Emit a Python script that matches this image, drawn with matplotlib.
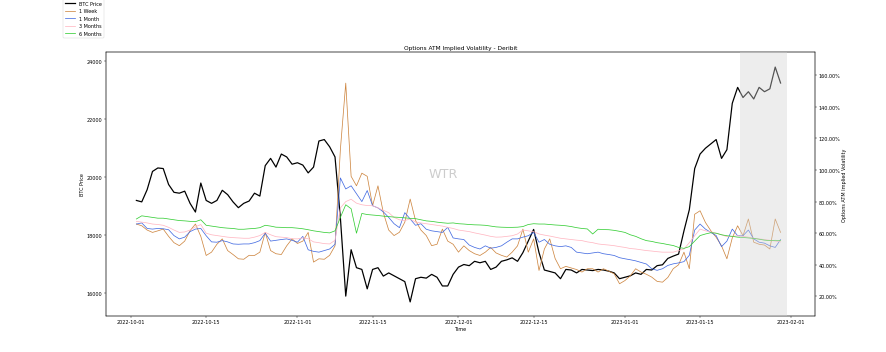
"""
Options ATM implied volatility (Deribit) against BTC price, Oct 2022 - Jan 2023.
"""

import pandas as pd
import matplotlib.pyplot as plt
import matplotlib.dates as mdates
import matplotlib.ticker as mtick

# big canvas drawn at low dpi so the text/lines scale like the original export
DPI = 35.44
plt.rcParams.update({
    'font.family': 'DejaVu Sans',
    'font.size': 10,
})

# --- data: one value per day, 2022-10-02 .. 2023-01-30 ---
START_DATE = '2022-10-02'

BTC_PRICE = [
    19200, 19150, 19570, 20200, 20320, 20300, 19750, 19480, 19450, 19520,
    19100, 18800, 19800, 19200, 19100, 19200, 19550, 19400, 19150, 18950,
    19100, 19180, 19450, 19350, 20400, 20650, 20350, 20800, 20700, 20450,
    20500, 20420, 20150, 20350, 21250, 21300, 21050, 20700, 18600, 15900,
    17500, 16880, 16820, 16150, 16820, 16880, 16590, 16700, 16600, 16500,
    16400, 15700, 16500, 16550, 16520, 16650, 16550, 16250, 16250, 16650,
    16900, 16990, 16950, 17100, 17050, 17100, 16820, 16900, 17100, 17150,
    17220, 17100, 17400, 17800, 18200, 17400, 16800, 16750, 16700, 16500,
    16820, 16800, 16700, 16820, 16800, 16780, 16820, 16800, 16760, 16700,
    16500, 16550, 16600, 16700, 16650, 16820, 16800, 16950, 16980, 17200,
    17280, 17350, 18150, 18880, 20300, 20800, 21000, 21150, 21300, 20650,
    20950, 22550, 23100, 22750, 22950, 22700, 23100, 22950, 23050, 23800,
    23250,
]

IV_1W = [
    65.8, 64.7, 62.0, 60.5, 61.5, 62.6, 58.0, 54.0, 52.1, 55.0,
    61.6, 65.8, 58.0, 45.9, 48.0, 53.0, 56.4, 49.0, 46.5, 43.8,
    43.5, 46.0, 45.9, 48.0, 60.5, 49.0, 47.0, 46.5, 52.0, 56.4,
    53.5, 55.0, 60.5, 41.7, 43.8, 43.5, 46.0, 52.0, 113.0, 155.0,
    96.0, 90.0, 98.0, 96.0, 77.4, 90.0, 73.0, 62.0, 58.5, 60.6,
    67.0, 81.6, 68.0, 62.0, 58.5, 52.1, 53.0, 62.6, 55.0, 53.0,
    48.0, 52.0, 49.0, 47.0, 45.9, 48.0, 51.0, 47.5, 46.0, 44.9,
    48.0, 52.0, 62.6, 48.0, 56.4, 36.4, 50.0, 56.4, 44.0, 37.5,
    39.0, 38.0, 37.0, 35.4, 37.5, 37.5, 35.4, 37.5, 36.0, 34.3,
    28.0, 30.0, 33.0, 37.5, 35.4, 34.0, 32.2, 29.5, 29.0, 32.0,
    37.5, 40.0, 48.0, 37.5, 72.0, 74.2, 66.8, 61.6, 57.4, 52.0,
    43.8, 57.0, 64.7, 58.4, 69.0, 54.3, 53.0, 52.5, 50.0, 69.0,
    60.5,
]

IV_1M = [
    65.8, 66.5, 63.0, 62.6, 63.0, 62.8, 62.2, 58.5, 56.4, 57.5,
    61.0, 62.6, 63.0, 58.4, 54.5, 54.3, 55.3, 54.5, 53.2, 53.0,
    53.2, 53.2, 54.0, 55.3, 60.0, 55.0, 55.5, 56.0, 56.4, 55.5,
    54.3, 58.0, 49.5, 48.5, 48.0, 49.0, 50.0, 53.0, 95.0, 88.0,
    90.0, 85.0, 80.0, 87.0, 77.4, 76.0, 73.5, 70.0, 66.0, 63.5,
    73.0, 69.0, 65.0, 66.0, 62.5, 61.5, 61.0, 60.5, 63.7, 57.0,
    56.4, 56.0, 52.5, 51.0, 50.0, 52.0, 50.5, 51.0, 52.0, 54.3,
    56.4, 56.4, 57.5, 58.4, 60.5, 54.3, 56.0, 53.0, 52.0, 51.5,
    52.0, 51.0, 48.0, 47.5, 47.0, 47.5, 48.0, 47.0, 46.5, 45.9,
    44.5, 43.8, 43.2, 42.5, 41.5, 40.5, 37.5, 36.5, 37.5, 39.6,
    40.6, 41.2, 42.0, 46.0, 62.0, 65.8, 62.6, 60.5, 58.5, 51.5,
    55.0, 62.6, 58.4, 58.4, 62.0, 56.4, 54.3, 53.7, 52.0, 51.0,
    56.0,
]

IV_3M = [
    67.5, 67.0, 66.5, 65.8, 65.5, 65.0, 63.7, 62.0, 60.5, 60.8,
    62.0, 64.0, 65.5, 60.0, 59.0, 58.5, 58.0, 57.5, 57.2, 57.0,
    56.8, 56.8, 57.5, 58.5, 60.5, 59.0, 57.8, 57.5, 57.2, 56.5,
    56.4, 57.0, 56.5, 54.5, 54.0, 53.4, 53.2, 55.5, 76.0, 80.0,
    81.5, 79.0, 78.0, 77.5, 77.4, 76.0, 74.5, 73.0, 70.0, 68.5,
    68.0, 69.0, 67.0, 66.5, 66.0, 65.5, 65.0, 64.5, 63.7, 63.0,
    62.0, 61.5, 61.0, 60.2, 59.5, 58.8, 58.0, 57.5, 57.6, 58.0,
    58.4, 59.5, 62.0, 61.5, 61.0, 59.5, 58.8, 58.2, 57.5, 56.8,
    56.4, 56.0, 55.6, 55.3, 54.5, 54.0, 53.2, 52.8, 52.5, 52.1,
    51.5, 51.0, 50.3, 50.0, 49.5, 49.0, 48.7, 48.3, 48.0, 48.0,
    48.0, 49.0, 50.0, 54.0, 58.4, 62.6, 61.5, 60.8, 60.0, 59.0,
    57.8, 58.0, 58.4, 58.0, 57.5, 56.8, 56.4, 56.0, 55.5, 55.0,
    54.5,
]

IV_6M = [
    69.0, 71.0, 70.5, 70.0, 69.5, 69.5, 69.0, 68.5, 68.0, 67.8,
    67.5, 67.3, 68.5, 65.0, 64.5, 64.0, 63.5, 63.2, 63.0, 62.5,
    62.5, 62.8, 63.0, 63.5, 65.0, 64.5, 63.8, 63.7, 63.5, 63.5,
    63.2, 62.8, 62.2, 61.5, 61.0, 60.5, 60.2, 61.5, 70.0, 78.0,
    75.5, 60.0, 72.5, 71.8, 71.5, 71.2, 70.8, 70.5, 70.2, 70.0,
    69.7, 69.4, 69.2, 68.5, 67.8, 67.5, 67.0, 66.6, 66.3, 66.5,
    66.0, 65.8, 65.5, 65.3, 65.2, 65.0, 64.5, 64.0, 63.8, 63.7,
    63.7, 63.8, 64.2, 65.5, 66.0, 65.8, 65.8, 65.5, 65.2, 65.0,
    64.7, 64.2, 63.5, 63.0, 62.7, 59.5, 62.5, 62.3, 62.2, 61.8,
    61.2, 60.5, 59.0, 58.0, 56.5, 55.3, 54.8, 54.0, 53.5, 52.8,
    52.2, 51.0, 50.4, 51.5, 55.0, 58.5, 59.5, 60.3, 60.0, 59.0,
    58.4, 58.0, 57.5, 57.3, 57.0, 56.7, 56.2, 55.6, 55.3, 55.5,
    55.3,
]

TENORS = ['1 Week', '1 Month', '3 Months', '6 Months']
TENOR_DATA = [IV_1W, IV_1M, IV_3M, IV_6M]
COLORS = {'1 Week': 'peru', '1 Month': 'royalblue',
          '3 Months': 'lightpink', '6 Months': 'limegreen'}


def main():
    dates = pd.date_range(START_DATE, periods=len(BTC_PRICE), freq='D')

    fig = plt.figure(figsize=(25, 9.96))
    ax1 = fig.add_axes([0.1196, 0.1025, 0.8003, 0.7474])
    ax2 = ax1.twinx()

    btc_line, = ax1.plot(dates, BTC_PRICE, color='black', lw=2.5, label='BTC Price')
    ax1.set_ylabel('BTC Price')
    ax1.set_xlabel('Time')
    ax1.set_ylim(15220, 24320)
    ax1.set_xlim(pd.Timestamp('2022-09-26 08:00'), pd.Timestamp('2023-02-05 10:00'))
    ax1.xaxis.set_major_locator(mdates.DayLocator(bymonthday=[1, 15]))
    ax1.xaxis.set_major_formatter(mdates.DateFormatter('%Y-%m-%d'))

    handles = [btc_line]
    for name, values in zip(TENORS, TENOR_DATA):
        h, = ax2.plot(dates, values, color=COLORS[name], lw=1.5, label=name)
        handles.append(h)
    ax2.set_ylim(7.7, 174.7)
    ax2.yaxis.set_major_locator(mtick.MultipleLocator(20))
    ax2.yaxis.set_major_formatter(mtick.PercentFormatter(100, decimals=2))
    ax2.set_ylabel('Options ATM Implied Volatility')

    # highlighted recent window, drawn over the lines
    ax2.axvspan(pd.Timestamp('2023-01-22 10:00'), pd.Timestamp('2023-01-31 05:00'),
                color='lightgrey', alpha=0.4, lw=0, zorder=5)

    ax1.set_title('Options ATM Implied Volatility - Deribit')
    ax1.text(0.475, 0.54, 'WTR', transform=ax1.transAxes, fontsize=26,
             color='grey', alpha=0.4, ha='center', va='center')

    fig.legend(handles=handles, loc='upper left',
               bbox_to_anchor=(0.071, 1.0), borderaxespad=0)

    fig.savefig('out.png', dpi=DPI, facecolor='white')
    plt.close()


if __name__ == '__main__':
    main()
